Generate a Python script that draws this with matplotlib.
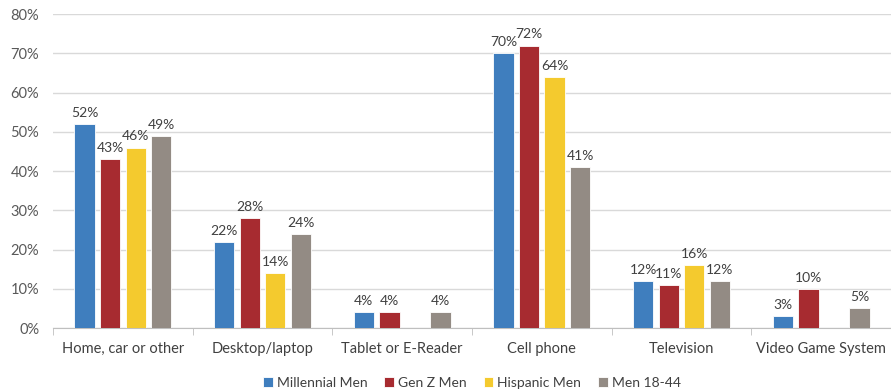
import numpy as np
import matplotlib
matplotlib.use("Agg")
import matplotlib.pyplot as plt
from matplotlib.ticker import FixedLocator, PercentFormatter

plt.rcParams['font.family'] = ['Lato', 'DejaVu Sans']

categories = ["Home, car or other", "Desktop/laptop", "Tablet or E-Reader",
              "Cell phone", "Television", "Video Game System"]
series = ["Millennial Men", "Gen Z Men", "Hispanic Men", "Men 18-44"]
millennial = [52, 22, 4, 70, 12, 3]
gen_z = [43, 28, 4, 72, 11, 10]
hispanic = [46, 14, None, 64, 16, None]
men_18_44 = [49, 24, 4, 41, 12, 5]
values = [millennial, gen_z, hispanic, men_18_44]
colors = ["#3F7EBE", "#A72B30", "#F4CA2E", "#938B84"]

fig = plt.figure(figsize=(8.91, 3.92), dpi=100)
ax = fig.add_axes([0.0595, 0.163, 0.9405, 0.801])

x = np.arange(len(categories))
width = 0.145
step = 0.183
for i, (name, vals, c) in enumerate(zip(series, values, colors)):
    pos = x + (i - 1.5) * step
    h = [v if v is not None else 0 for v in vals]
    bars = ax.bar(pos, h, width, color=c, edgecolor="white", linewidth=0.6,
                  label=name, zorder=3)
    for b, v in zip(bars, vals):
        if v is None:
            continue
        ax.text(b.get_x() + b.get_width() / 2, v + 1.3, f"{v}%",
                ha="center", va="bottom", fontsize=10, color="#404040")

ax.set_xlim(-0.5, len(categories) - 0.5)
ax.set_ylim(0, 80)
ax.set_yticks(range(0, 81, 10))
ax.yaxis.set_major_formatter(PercentFormatter(decimals=0))
ax.grid(axis="y", color="#D9D9D9", linewidth=1, zorder=0)
for s in ["top", "right", "left"]:
    ax.spines[s].set_visible(False)
ax.spines["bottom"].set_color("#BFBFBF")
ax.tick_params(axis="y", length=0, labelsize=10.5, labelcolor="#595959", pad=10)
ax.set_xticks(x)
ax.set_xticklabels(categories)
ax.tick_params(axis="x", which="major", length=0, labelsize=10.5,
               labelcolor="#404040", pad=10)
ax.xaxis.set_minor_locator(FixedLocator(np.arange(-0.5, len(categories), 1)))
ax.tick_params(axis="x", which="minor", length=5, color="#BFBFBF")

ax.legend(loc="upper center", bbox_to_anchor=(0.5, -0.115), ncol=4,
          frameon=False, fontsize=10, handlelength=0.7, handleheight=0.7,
          handletextpad=0.3, columnspacing=1.2, labelcolor="#404040")

fig.savefig("out.png", dpi=100)
